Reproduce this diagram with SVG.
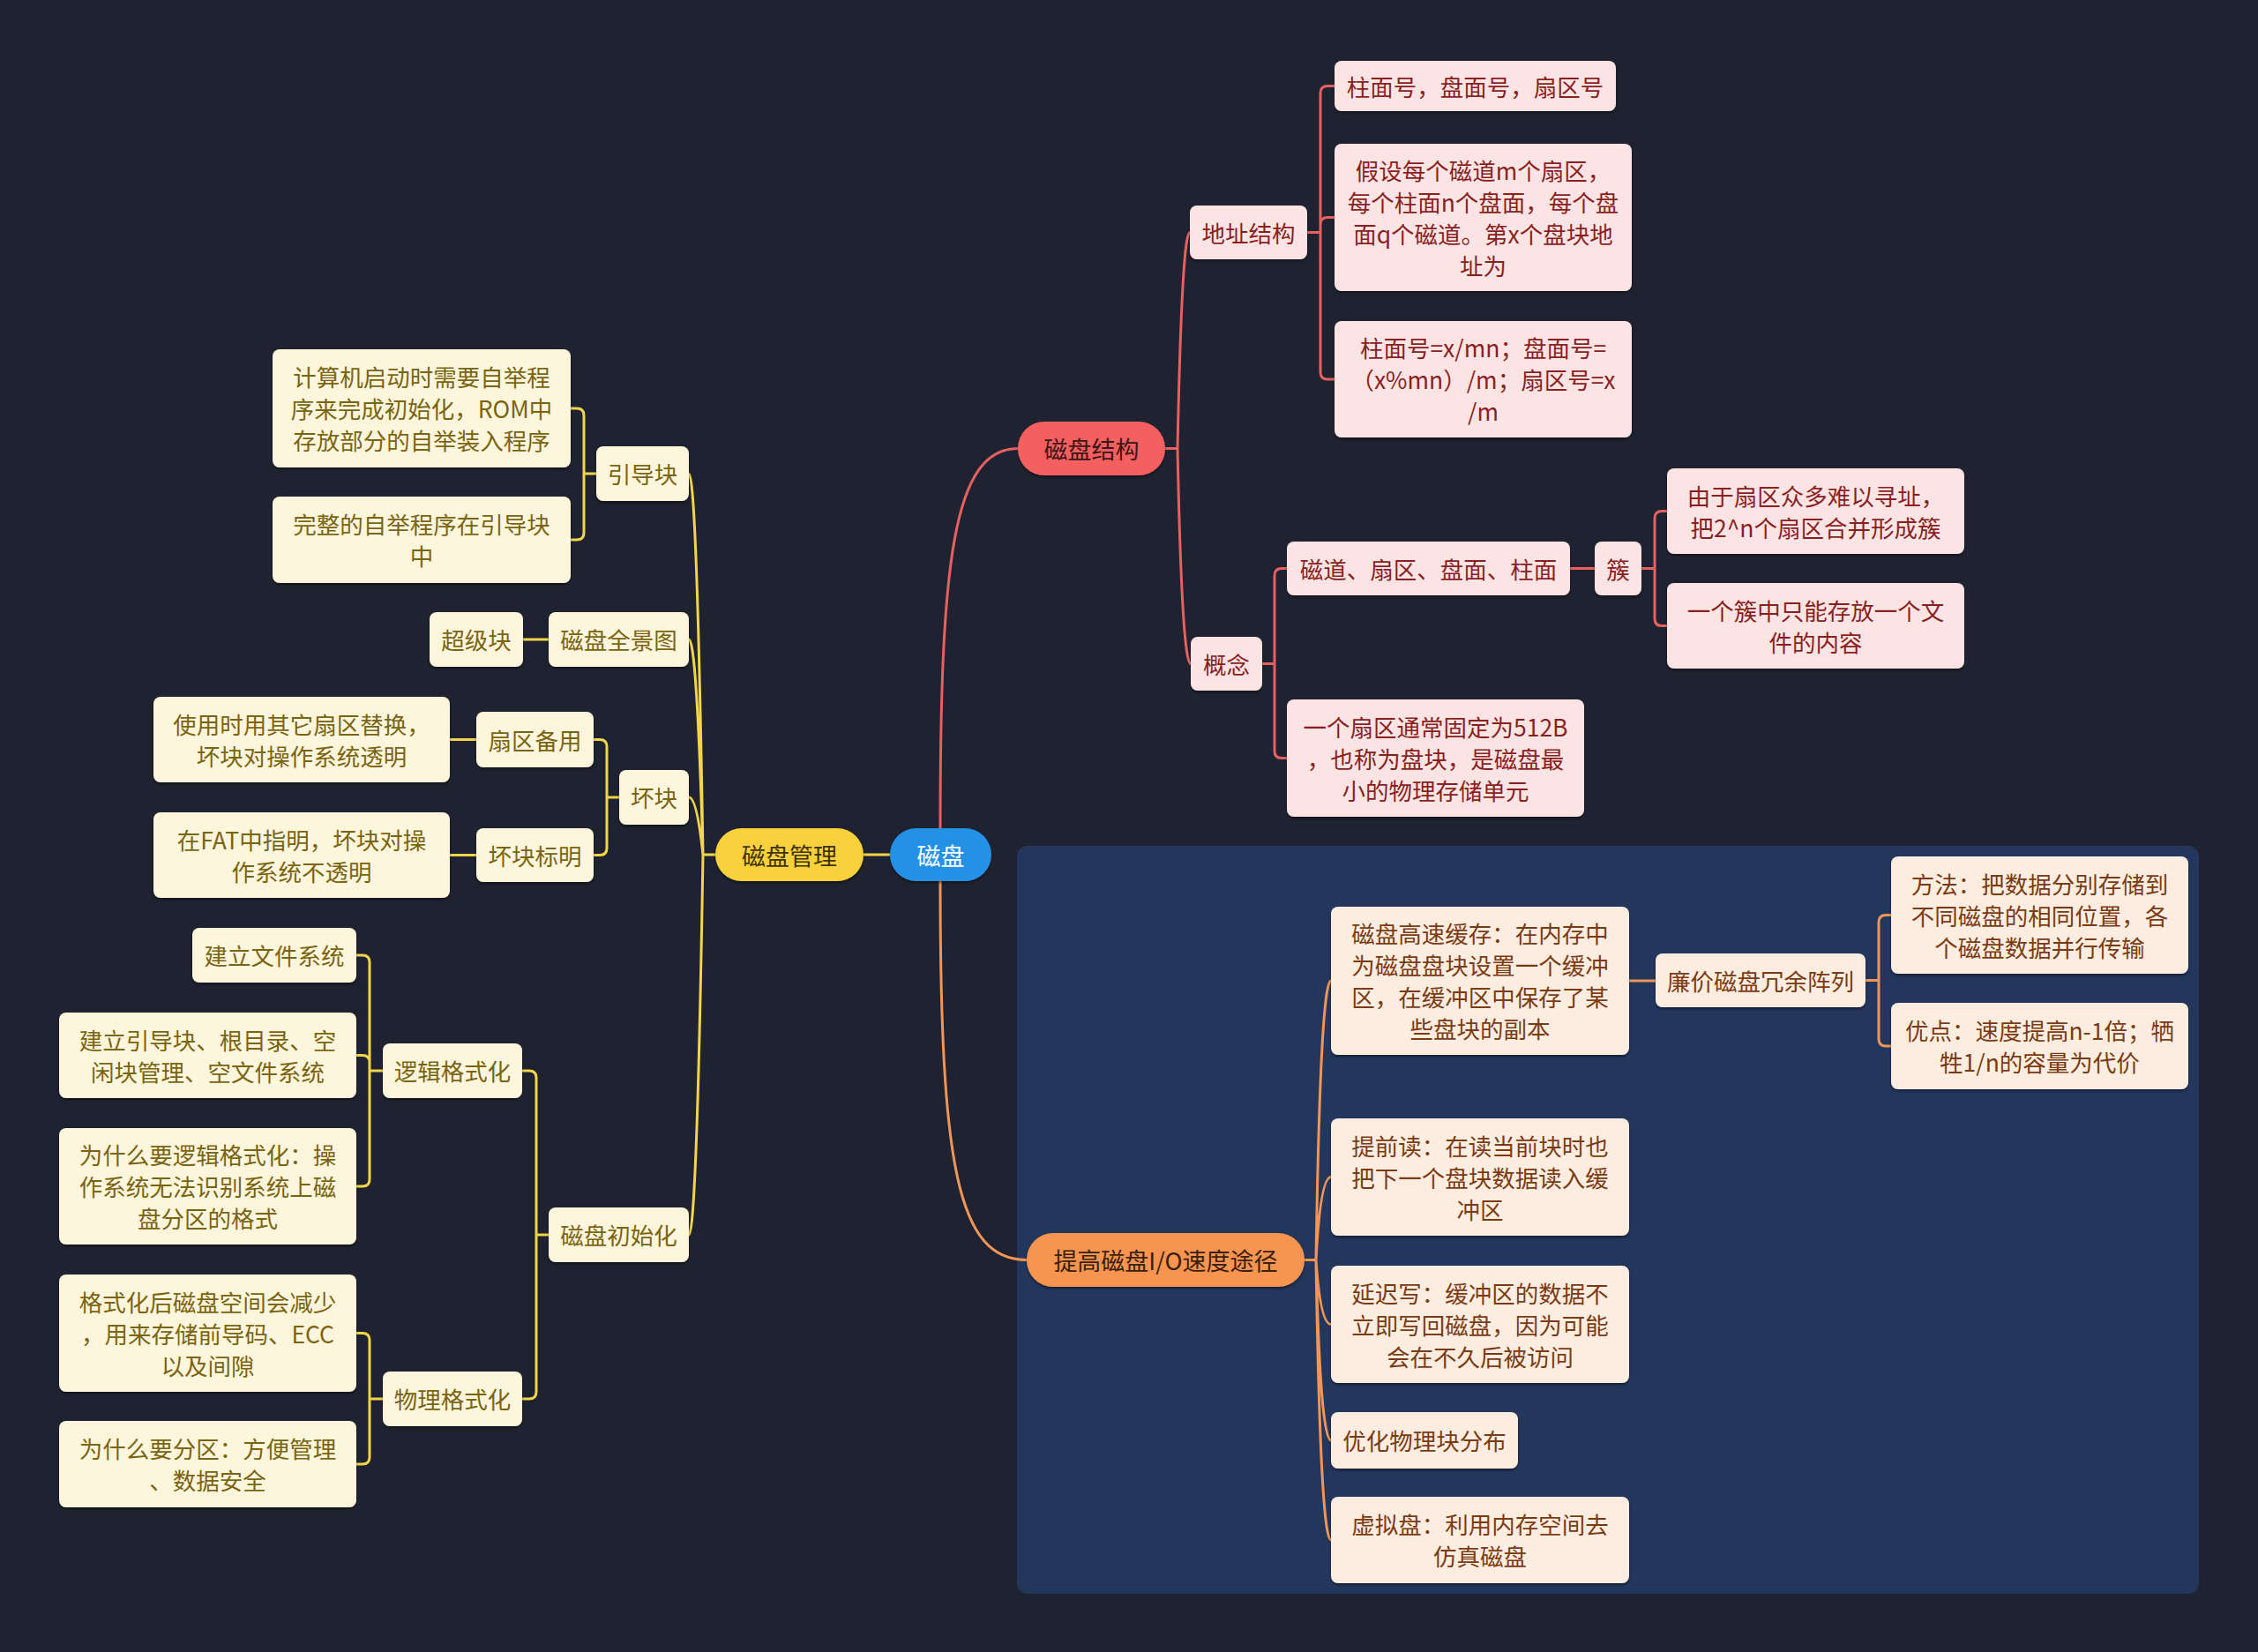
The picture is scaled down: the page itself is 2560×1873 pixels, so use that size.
<svg xmlns="http://www.w3.org/2000/svg" width="2560" height="1873" viewBox="0 0 2560 1873">
<defs>
<filter id="sh" x="-10%" y="-10%" width="120%" height="130%"><feDropShadow dx="0" dy="2" stdDeviation="1.5" flood-color="#000" flood-opacity="0.45"/></filter>
<style>
text{font-family:"Noto Sans CJK SC","Noto Sans",sans-serif;font-size:26.5px;text-anchor:middle;dominant-baseline:central}
.r rect{fill:#fde4e4}.r text{fill:#8a1f1f}
.o rect{fill:#fdede1}.o text{fill:#7b3b12}
.y rect{fill:#fdf6dc}.y text{fill:#7a6410}
.n rect{filter:url(#sh)}
.pill text{font-size:27px}
.cr{fill:none;stroke:#e8605f;stroke-width:3}
.co{fill:none;stroke:#f29556;stroke-width:3}
.cy{fill:none;stroke:#f2d548;stroke-width:3}
</style>
</defs>
<rect width="2560" height="1873" fill="#1f2230"/>
<rect x="1153" y="959" width="1340" height="848" rx="12" fill="#23365c"/>
<g id="connectors">
<path class="cr" d="M1066 939C1066 640 1080 508.5 1154 508.5"/>
<path class="co" d="M1066 999C1066 1320 1085 1428.5 1164 1428.5"/>
<path class="cy" d="M1009 969H979"/>
<path class="cy" d="M811 969H797Q790 537 781 537M797 969Q790 725 781 725M797 969Q790 904 781 904M797 969Q790 1400 781 1400"/>
<path class="cr" d="M1321 508.5H1335Q1340 263.5 1349 263.5M1335 508.5Q1340 752.5 1350 752.5"/>
<path class="co" d="M1479 1428.5H1492Q1497 1112 1509 1112M1492 1428.5Q1497 1334.5 1509 1334.5M1492 1428.5Q1497 1501.5 1509 1501.5M1492 1428.5Q1497 1633 1509 1633M1492 1428.5Q1497 1746 1509 1746"/>
<path class="cy" d="M676 537H662V471Q662 463 654 463H646M662 537V604Q662 612 654 612H646"/>
<path class="cy" d="M622 725H593"/>
<path class="cy" d="M702 904H688V846.5Q688 838.5 680 838.5H673M688 904V961.5Q688 969.5 680 969.5H673"/>
<path class="cy" d="M540 838.5H510M540 969.5H510"/>
<path class="cy" d="M622 1400H608V1222Q608 1214 600 1214H592M608 1400V1578Q608 1586 600 1586H592"/>
<path class="cy" d="M434 1214H419V1091Q419 1083 411 1083H404M419 1214V1204.5Q419 1196.5 411 1196.5H404M419 1214V1337Q419 1345 411 1345H404"/>
<path class="cy" d="M434 1586H419V1519.5Q419 1511.5 411 1511.5H404M419 1586V1652Q419 1660 411 1660H404"/>
<path class="cr" d="M1482 263.5H1497V105.5Q1497 97.5 1505 97.5H1513M1497 263.5V254.5Q1497 246.5 1505 246.5H1513M1497 263.5V422Q1497 430 1505 430H1513"/>
<path class="cr" d="M1431 752.5H1445V652.5Q1445 644.5 1453 644.5H1459M1445 752.5V851.5Q1445 859.5 1453 859.5H1459"/>
<path class="cr" d="M1780 644.5H1808"/>
<path class="cr" d="M1861 644.5H1876V587.5Q1876 579.5 1884 579.5H1890M1876 644.5V701.5Q1876 709.5 1884 709.5H1890"/>
<path class="co" d="M1847 1112H1877"/>
<path class="co" d="M2115 1111.5H2130V1045.5Q2130 1037.5 2138 1037.5H2144M2130 1111.5V1178Q2130 1186 2138 1186H2144"/>
</g>
<g id="root" class="n pill"><rect x="1009" y="939" width="115" height="60" rx="30" fill="#2491e6"/><text x="1066.5" y="969" fill="#fff">磁盘</text></g>
<g id="n-guanli" class="n pill"><rect x="811" y="939" width="168" height="60" rx="30" fill="#f9d13e"/><text x="895" y="969" fill="#3f3300">磁盘管理</text></g>
<g id="n-jiegou" class="n pill"><rect x="1154" y="478" width="167" height="61" rx="30" fill="#f45f5f"/><text x="1237.5" y="508.5" fill="#3d1515">磁盘结构</text></g>
<g id="n-tigao" class="n pill"><rect x="1164" y="1398" width="315" height="61" rx="30" fill="#f79450"/><text x="1321.5" y="1428.5" fill="#3a200d">提高磁盘I/O速度途径</text></g>

<g id="n-dizhi" class="n r"><rect x="1349" y="233" width="133" height="61" rx="8"/><text x="1415.5" y="263">地址结构</text></g>
<g id="n-gainian" class="n r"><rect x="1350" y="722" width="81" height="61" rx="8"/><text x="1390.5" y="752">概念</text></g>
<g id="n-zhumian" class="n r"><rect x="1513" y="69" width="319" height="57" rx="8"/><text x="1672.5" y="97">柱面号，盘面号，扇区号</text></g>
<g id="n-jiashe" class="n r"><rect x="1513" y="163" width="337" height="167" rx="8"/><text x="1681.5" y="192">假设每个磁道m个扇区，</text><text x="1681.5" y="228">每个柱面n个盘面，每个盘</text><text x="1681.5" y="264">面q个磁道。第x个盘块地</text><text x="1681.5" y="300">址为</text></g>
<g id="n-gongshi" class="n r"><rect x="1513" y="364" width="337" height="132" rx="8"/><text x="1681.5" y="393.5">柱面号=x/mn；盘面号=</text><text x="1681.5" y="429.5">（x%mn）/m；扇区号=x</text><text x="1681.5" y="465.5">/m</text></g>
<g id="n-cidao" class="n r"><rect x="1459" y="614" width="321" height="61" rx="8"/><text x="1619.5" y="644">磁道、扇区、盘面、柱面</text></g>
<g id="n-cu" class="n r"><rect x="1808" y="614" width="53" height="61" rx="8"/><text x="1834.5" y="644">簇</text></g>
<g id="n-youyu" class="n r"><rect x="1890" y="531" width="337" height="97" rx="8"/><text x="2058.5" y="561">由于扇区众多难以寻址，</text><text x="2058.5" y="597">把2^n个扇区合并形成簇</text></g>
<g id="n-yigecu" class="n r"><rect x="1890" y="661" width="337" height="97" rx="8"/><text x="2058.5" y="691">一个簇中只能存放一个文</text><text x="2058.5" y="727">件的内容</text></g>
<g id="n-shanqu" class="n r"><rect x="1459" y="793" width="337" height="133" rx="8"/><text x="1627.5" y="823">一个扇区通常固定为512B</text><text x="1627.5" y="859">，也称为盘块，是磁盘最</text><text x="1627.5" y="895">小的物理存储单元</text></g>

<g id="n-huancun" class="n o"><rect x="1509" y="1028" width="338" height="168" rx="8"/><text x="1678" y="1057.5">磁盘高速缓存：在内存中</text><text x="1678" y="1093.5">为磁盘盘块设置一个缓冲</text><text x="1678" y="1129.5">区，在缓冲区中保存了某</text><text x="1678" y="1165.5">些盘块的副本</text></g>
<g id="n-raid" class="n o"><rect x="1877" y="1081" width="238" height="61" rx="8"/><text x="1996" y="1111">廉价磁盘冗余阵列</text></g>
<g id="n-fangfa" class="n o"><rect x="2144" y="971" width="337" height="133" rx="8"/><text x="2312.5" y="1001">方法：把数据分别存储到</text><text x="2312.5" y="1037">不同磁盘的相同位置，各</text><text x="2312.5" y="1073">个磁盘数据并行传输</text></g>
<g id="n-youdian" class="n o"><rect x="2144" y="1137" width="337" height="98" rx="8"/><text x="2312.5" y="1167.5">优点：速度提高n-1倍；牺</text><text x="2312.5" y="1203.5">牲1/n的容量为代价</text></g>
<g id="n-tiqian" class="n o"><rect x="1509" y="1268" width="338" height="133" rx="8"/><text x="1678" y="1298">提前读：在读当前块时也</text><text x="1678" y="1334">把下一个盘块数据读入缓</text><text x="1678" y="1370">冲区</text></g>
<g id="n-yanchi" class="n o"><rect x="1509" y="1435" width="338" height="133" rx="8"/><text x="1678" y="1465">延迟写：缓冲区的数据不</text><text x="1678" y="1501">立即写回磁盘，因为可能</text><text x="1678" y="1537">会在不久后被访问</text></g>
<g id="n-youhua" class="n o"><rect x="1509" y="1601" width="212" height="64" rx="8"/><text x="1615" y="1632.5">优化物理块分布</text></g>
<g id="n-xuni" class="n o"><rect x="1509" y="1697" width="338" height="98" rx="8"/><text x="1678" y="1727.5">虚拟盘：利用内存空间去</text><text x="1678" y="1763.5">仿真磁盘</text></g>

<g id="n-yindao" class="n y"><rect x="676" y="506" width="105" height="62" rx="8"/><text x="728.5" y="536.5">引导块</text></g>
<g id="n-jisuanji" class="n y"><rect x="309" y="396" width="338" height="134" rx="8"/><text x="478" y="426.5">计算机启动时需要自举程</text><text x="478" y="462.5">序来完成初始化，ROM中</text><text x="478" y="498.5">存放部分的自举装入程序</text></g>
<g id="n-wanzheng" class="n y"><rect x="309" y="563" width="338" height="98" rx="8"/><text x="478" y="593.5">完整的自举程序在引导块</text><text x="478" y="629.5">中</text></g>
<g id="n-quanjing" class="n y"><rect x="622" y="694" width="159" height="62" rx="8"/><text x="701.5" y="724.5">磁盘全景图</text></g>
<g id="n-chaoji" class="n y"><rect x="487" y="694" width="106" height="62" rx="8"/><text x="540" y="724.5">超级块</text></g>
<g id="n-huaikuai" class="n y"><rect x="702" y="873" width="79" height="62" rx="8"/><text x="741.5" y="903.5">坏块</text></g>
<g id="n-beiyong" class="n y"><rect x="540" y="807" width="133" height="63" rx="8"/><text x="606.5" y="838">扇区备用</text></g>
<g id="n-biaoming" class="n y"><rect x="540" y="939" width="133" height="61" rx="8"/><text x="606.5" y="969">坏块标明</text></g>
<g id="n-shiyong" class="n y"><rect x="174" y="790" width="336" height="97" rx="8"/><text x="342" y="820">使用时用其它扇区替换，</text><text x="342" y="856">坏块对操作系统透明</text></g>
<g id="n-fat" class="n y"><rect x="174" y="921" width="336" height="97" rx="8"/><text x="342" y="951">在FAT中指明，坏块对操</text><text x="342" y="987">作系统不透明</text></g>
<g id="n-chushihua" class="n y"><rect x="622" y="1369" width="159" height="62" rx="8"/><text x="701.5" y="1399.5">磁盘初始化</text></g>
<g id="n-luoji" class="n y"><rect x="434" y="1183" width="158" height="62" rx="8"/><text x="513" y="1213.5">逻辑格式化</text></g>
<g id="n-wuli" class="n y"><rect x="434" y="1555" width="158" height="62" rx="8"/><text x="513" y="1585.5">物理格式化</text></g>
<g id="n-jianli" class="n y"><rect x="218" y="1052" width="186" height="62" rx="8"/><text x="311" y="1082.5">建立文件系统</text></g>
<g id="n-jianliyd" class="n y"><rect x="67" y="1148" width="337" height="97" rx="8"/><text x="235.5" y="1178">建立引导块、根目录、空</text><text x="235.5" y="1214">闲块管理、空文件系统</text></g>
<g id="n-weishenme" class="n y"><rect x="67" y="1279" width="337" height="132" rx="8"/><text x="235.5" y="1308.5">为什么要逻辑格式化：操</text><text x="235.5" y="1344.5">作系统无法识别系统上磁</text><text x="235.5" y="1380.5">盘分区的格式</text></g>
<g id="n-geshihua" class="n y"><rect x="67" y="1445" width="337" height="133" rx="8"/><text x="235.5" y="1475">格式化后磁盘空间会减少</text><text x="235.5" y="1511">，用来存储前导码、ECC</text><text x="235.5" y="1547">以及间隙</text></g>
<g id="n-fenqu" class="n y"><rect x="67" y="1611" width="337" height="98" rx="8"/><text x="235.5" y="1641.5">为什么要分区：方便管理</text><text x="235.5" y="1677.5">、数据安全</text></g>
</svg>
